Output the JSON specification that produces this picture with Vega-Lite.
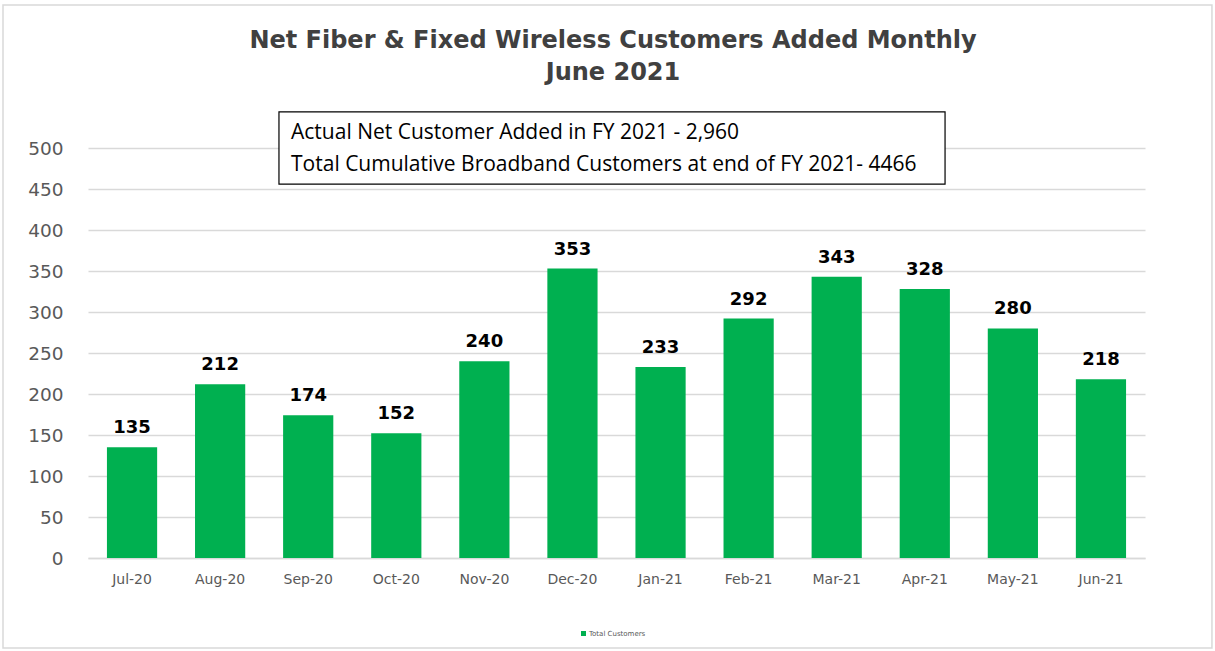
{
  "$schema": "https://vega.github.io/schema/vega-lite/v6.json",
  "width": 1057,
  "height": 410,
  "autosize": {"type": "none"},
  "padding": {"left": 88, "top": 148, "right": 70, "bottom": 93},
  "background": "white",
  "title": {
    "text": ["Net Fiber & Fixed Wireless Customers Added Monthly", "June 2021"],
    "font": "DejaVu Sans",
    "fontSize": 24,
    "fontWeight": "bold",
    "color": "#404040",
    "lineHeight": 32,
    "offset": -81,
    "anchor": "middle",
    "dx": -3.5
  },
  "config": {
    "view": {"stroke": null},
    "font": "DejaVu Sans"
  },
  "resolve": {"scale": {"x": "independent"}},
  "layer": [
    {
      "data": {
        "values": [
          {"x1": -0.965, "x2": 12.76, "y1": -109.8, "y2": 674.4}
        ]
      },
      "mark": {"type": "rect", "fill": null, "stroke": "#d9d9d9", "strokeWidth": 1.5, "clip": false},
      "encoding": {
        "x": {"field": "x1", "type": "quantitative", "scale": {"domain": [0, 12], "nice": false, "zero": false}, "axis": null},
        "x2": {"field": "x2"},
        "y": {"field": "y1", "type": "quantitative"},
        "y2": {"field": "y2"}
      }
    },
    {
      "data": {
        "values": [
          {"month": "Jul-20", "value": 135, "series": "Total Customers"},
          {"month": "Aug-20", "value": 212, "series": "Total Customers"},
          {"month": "Sep-20", "value": 174, "series": "Total Customers"},
          {"month": "Oct-20", "value": 152, "series": "Total Customers"},
          {"month": "Nov-20", "value": 240, "series": "Total Customers"},
          {"month": "Dec-20", "value": 353, "series": "Total Customers"},
          {"month": "Jan-21", "value": 233, "series": "Total Customers"},
          {"month": "Feb-21", "value": 292, "series": "Total Customers"},
          {"month": "Mar-21", "value": 343, "series": "Total Customers"},
          {"month": "Apr-21", "value": 328, "series": "Total Customers"},
          {"month": "May-21", "value": 280, "series": "Total Customers"},
          {"month": "Jun-21", "value": 218, "series": "Total Customers"}
        ]
      },
      "encoding": {
        "x": {
          "field": "month",
          "type": "nominal",
          "sort": null,
          "scale": {"paddingInner": 0.43, "paddingOuter": 0.215},
          "axis": {
            "title": null,
            "labelAngle": 0,
            "labelFont": "DejaVu Sans",
            "labelFontSize": 14,
            "labelColor": "#595959",
            "labelPadding": 14,
            "ticks": false,
            "domainColor": "#d9d9d9",
            "domainWidth": 1.5
          }
        },
        "y": {
          "field": "value",
          "type": "quantitative",
          "scale": {"domain": [0, 500], "nice": false},
          "axis": {
            "title": null,
            "values": [0, 50, 100, 150, 200, 250, 300, 350, 400, 450, 500],
            "labelFont": "DejaVu Sans",
            "labelFontSize": 18.5,
            "labelColor": "#595959",
            "labelPadding": 25,
            "ticks": false,
            "domain": false,
            "gridColor": "#d9d9d9",
            "gridWidth": 1.5
          }
        }
      },
      "layer": [
        {
          "mark": {"type": "bar"},
          "encoding": {
            "color": {
              "field": "series",
              "type": "nominal",
              "scale": {"domain": ["Total Customers"], "range": ["#00b050"]},
              "legend": {
                "title": null,
                "orient": "none",
                "legendX": 492,
                "legendY": 482,
                "symbolType": "square",
                "symbolSize": 25,
                "labelFontSize": 7,
                "labelColor": "#595959",
                "labelOffset": 2
              }
            }
          }
        },
        {
          "mark": {
            "type": "text",
            "baseline": "bottom",
            "dy": -10,
            "font": "DejaVu Sans",
            "fontSize": 18,
            "fontWeight": "bold",
            "color": "#000000"
          },
          "encoding": {"text": {"field": "value", "type": "quantitative"}}
        }
      ]
    },
    {
      "data": {
        "values": [
          {"x1": 2.168, "x2": 9.73, "y1": 456, "y2": 544}
        ]
      },
      "mark": {"type": "rect", "fill": "white", "stroke": "#000000", "strokeWidth": 1.2, "clip": false},
      "encoding": {
        "x": {"field": "x1", "type": "quantitative", "scale": {"domain": [0, 12], "nice": false, "zero": false}, "axis": null},
        "x2": {"field": "x2"},
        "y": {"field": "y1", "type": "quantitative"},
        "y2": {"field": "y2"}
      }
    },
    {
      "data": {
        "values": [
          {"x": 2.305, "y": 518.3, "label": "Actual Net Customer Added in FY 2021 - 2,960"},
          {"x": 2.305, "y": 479.3, "label": "Total Cumulative Broadband Customers at end of FY 2021- 4466"}
        ]
      },
      "mark": {"type": "text", "align": "left", "baseline": "middle", "font": "Open Sans", "fontSize": 21, "color": "#000000"},
      "encoding": {
        "x": {"field": "x", "type": "quantitative", "scale": {"domain": [0, 12], "nice": false, "zero": false}, "axis": null},
        "y": {"field": "y", "type": "quantitative"},
        "text": {"field": "label", "type": "nominal"}
      }
    }
  ]
}
